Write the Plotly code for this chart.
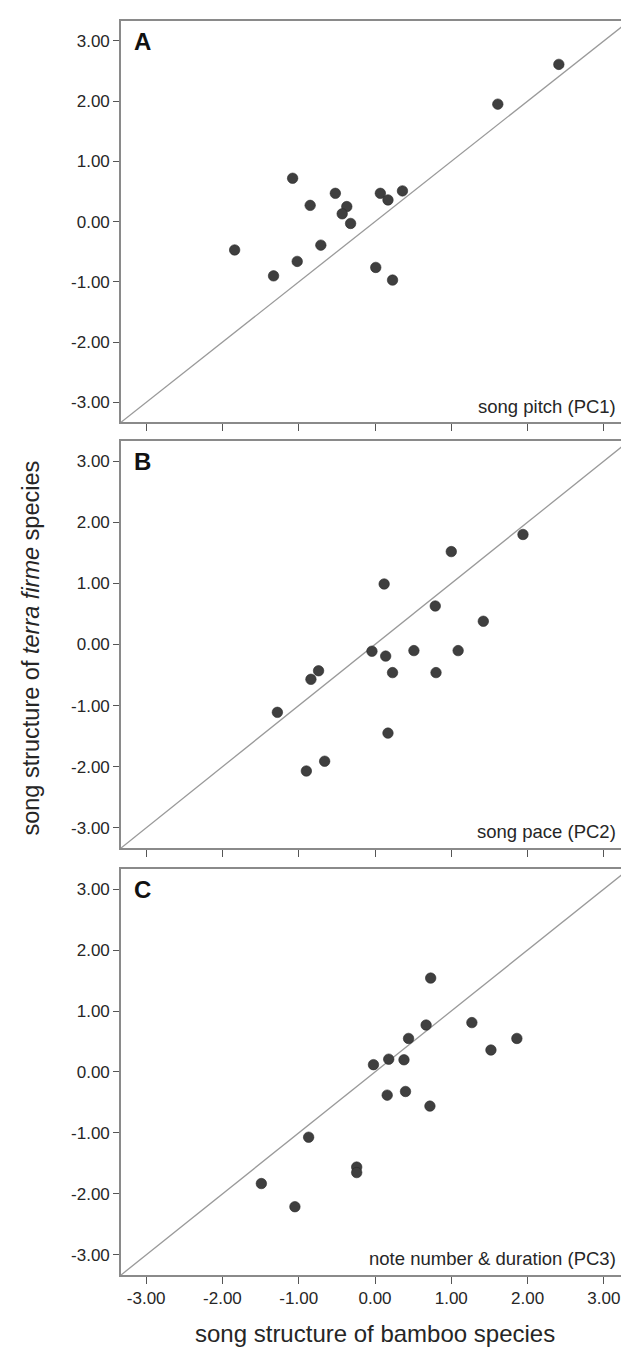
import plotly.graph_objects as go

# ---- data ----
panel_letters = ["A", "B", "C"]
panel_names = ["song pitch (PC1)", "song pace (PC2)", "note number &amp; duration (PC3)"]

pc1_bamboo = [2.41, 1.61, -1.08, -0.52, 0.07, 0.36, 0.17, -0.85, -0.37, -0.43, -0.32, -0.71, -1.84, -1.02, -1.33, 0.01, 0.23]
pc1_terra = [2.61, 1.95, 0.72, 0.47, 0.47, 0.51, 0.36, 0.27, 0.25, 0.13, -0.03, -0.39, -0.47, -0.66, -0.90, -0.76, -0.97]

pc2_bamboo = [1.94, 1.00, 0.12, 0.79, 1.42, -0.04, 0.14, 0.51, 1.09, 0.23, 0.80, -0.74, -0.84, -1.28, 0.17, -0.66, -0.90]
pc2_terra = [1.80, 1.52, 0.99, 0.63, 0.38, -0.11, -0.19, -0.10, -0.10, -0.46, -0.46, -0.43, -0.57, -1.11, -1.45, -1.91, -2.07]

pc3_bamboo = [0.73, 0.67, 1.27, 0.44, 1.86, 1.52, -0.02, 0.18, 0.38, 0.16, 0.40, 0.72, -0.87, -0.24, -0.24, -1.49, -1.05]
pc3_terra = [1.54, 0.77, 0.81, 0.55, 0.55, 0.36, 0.12, 0.21, 0.20, -0.38, -0.32, -0.56, -1.07, -1.56, -1.65, -1.83, -2.21]

tick_vals = [-3, -2, -1, 0, 1, 2, 3]
tick_text = ["-3.00", "-2.00", "-1.00", "0.00", "1.00", "2.00", "3.00"]
axis_range = [-3.33, 3.33]

x_title = "song structure of bamboo species"
y_title = "song structure of <i>terra firme</i> species"

panels = [(pc1_bamboo, pc1_terra), (pc2_bamboo, pc2_terra), (pc3_bamboo, pc3_terra)]
y_domains = [[0.680, 1.0], [0.3405, 0.6651], [0.0, 0.3238]]

FONT = "Liberation Sans, Arial, sans-serif"
FRAME = "#8a8a8a"
TXT = "#262626"

fig = go.Figure()
annotations = []
for i, (bx, ty) in enumerate(panels):
    n = "" if i == 0 else str(i + 1)
    xa, ya = "x" + n, "y" + n
    # identity line
    fig.add_trace(go.Scatter(x=axis_range, y=axis_range, mode="lines",
                             line=dict(color="#9a9a9a", width=1.3),
                             xaxis=xa, yaxis=ya, showlegend=False, hoverinfo="skip"))
    fig.add_trace(go.Scatter(x=bx, y=ty, mode="markers",
                             marker=dict(size=10.5, color="#3f3f3f",
                                         line=dict(color="#2a2a2a", width=0.6)),
                             xaxis=xa, yaxis=ya, showlegend=False))
    common = dict(range=axis_range, tickvals=tick_vals, ticktext=tick_text,
                  showgrid=False, zeroline=False, showline=True, mirror=True,
                  linecolor=FRAME, linewidth=1.6, ticks="outside", ticklen=7,
                  tickcolor="#555555", tickwidth=1.2,
                  tickfont=dict(family=FONT, size=17, color=TXT))
    fig.layout["xaxis" + n] = dict(common, domain=[0, 1], anchor=ya,
                                   showticklabels=(i == 2))
    fig.layout["yaxis" + n] = dict(common, domain=y_domains[i], anchor=xa,
                                   ticklen=6)
    annotations.append(dict(xref=xa + " domain", yref=ya + " domain",
                            x=0.022, y=0.95, xanchor="left", yanchor="middle",
                            text="<b>" + panel_letters[i] + "</b>", showarrow=False,
                            font=dict(family=FONT, size=24, color="#111111")))
    annotations.append(dict(xref=xa + " domain", yref=ya + " domain",
                            x=0.978, y=0.04, xanchor="right", yanchor="middle",
                            text=panel_names[i], showarrow=False,
                            font=dict(family=FONT, size=18.5, color=TXT)))

annotations.append(dict(xref="paper", yref="paper", x=0.5, y=-0.047,
                        xanchor="center", yanchor="middle", text=x_title,
                        showarrow=False, font=dict(family=FONT, size=24, color=TXT)))
annotations.append(dict(xref="paper", yref="paper", x=-0.178, y=0.5,
                        xanchor="center", yanchor="middle", text=y_title,
                        textangle=-90, showarrow=False,
                        font=dict(family=FONT, size=23.5, color=TXT)))

fig.update_layout(width=629, height=1352,
                  margin=dict(l=113, r=6, t=13, b=85),
                  paper_bgcolor="white", plot_bgcolor="white",
                  annotations=annotations)

fig.write_html("out.html")
